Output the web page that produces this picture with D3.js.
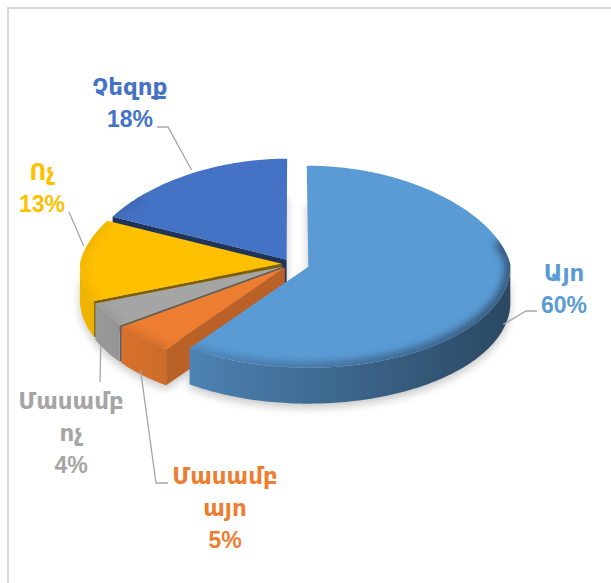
<!DOCTYPE html>
<html><head><meta charset="utf-8">
<script src="https://cdn.jsdelivr.net/npm/d3@7/dist/d3.min.js"></script>
<style>html,body{margin:0;padding:0;background:#fff;} svg{display:block}</style>
</head><body>
<svg id="chart" width="611" height="583"></svg>
<script>
// ---------------- data ----------------
const categories = ["Այո", "Մասամբ այո", "Մասամբ ոչ", "Ոչ", "Չեզոք"];
const values = [60, 5, 4, 13, 18];

// ---------------- style / layout ----------------
const colors = ["#5B9BD5", "#ED7D31", "#A5A5A5", "#FFC000", "#4472C4"];
const cutDark = [1.5, 0.7, 1.6, 2.0, 2.2];
const explode = [0.085, 0.05, 0.05, 0.05, 0.05];
const labelLayout = [
  {x: 564, y: 281, leader: [[537, 311], [526, 311]], anchor: {r: 1.015, h: -0.73, dphi: 0}},
  {x: 225, y: 484, leader: [[168, 483], [156, 483]], anchor: {r: 1.01, h: -0.86, dphi: 0}},
  {x: 71,  y: 409, leader: [[100, 382]], anchor: {r: 1.03, h: -0.8, dphi: 0}},
  {x: 42,  y: 180, leader: [[69, 212]], anchor: {r: 1.015, h: 0, dphi: 8.2}},
  {x: 130, y: 95,  leader: [[157, 127], [168, 127]], anchor: {r: 1.03, h: 0, dphi: 2}}
];
const lineGap = 32;

const rx = 202, ry = 101, T = 36, farSquash = 0.1;
const cx0 = 292, cy0 = 264;

// projection of pie space (X right, Zt toward viewer, H up in units of thickness)
function proj(X, Zt, H) {
  const s = Zt < 0 ? 1 + farSquash * Zt : 1;
  return [cx0 + rx * X * s, cy0 + ry * Zt - T * H];
}

const svg = d3.select("#chart");
const defs = svg.append("defs");

// frame
svg.append("path").attr("d", "M8,585V8H613").attr("fill", "none")
  .attr("stroke", "#d9d9d9").attr("stroke-width", 2);

const total = d3.sum(values);
const arcs = d3.pie().sort(null).value(d => d)(values).map((a, i) => {
  const mid = (a.startAngle + a.endAngle) / 2;
  return Object.assign(a, {
    i, mid,
    ox: explode[i] * Math.sin(mid),
    oz: -explode[i] * Math.cos(mid)
  });
});

function pt(a, phi, r, H) {
  return proj(a.ox + r * Math.sin(phi), a.oz - r * Math.cos(phi), H);
}
function arcPts(a, p0, p1, H) {
  const n = Math.max(2, Math.ceil(Math.abs(p1 - p0) / (Math.PI / 180)));
  const pts = [];
  for (let k = 0; k <= n; k++) pts.push(pt(a, p0 + (p1 - p0) * k / n, 1, H));
  return pts;
}
const line = d3.line();

function topPath(a, H) {
  return line([proj(a.ox, a.oz, H)].concat(arcPts(a, a.startAngle, a.endAngle, H))) + "Z";
}

// gradients per slice (light on the left, dark on the right)
arcs.forEach(a => {
  const c = d3.color(colors[a.i]);
  const g = defs.append("linearGradient").attr("id", "wg" + a.i).attr("gradientUnits", "userSpaceOnUse")
    .attr("x1", 75).attr("x2", 515).attr("y1", 0).attr("y2", 0);
  g.append("stop").attr("offset", 0).attr("stop-color", c.darker(0.15));
  g.append("stop").attr("offset", 0.3).attr("stop-color", c.darker(0.55));
  g.append("stop").attr("offset", 1).attr("stop-color", c.darker(2.2));
});

// faces
const faces = [];
arcs.forEach(a => {
  const H = -1;
  const w0 = Math.max(a.startAngle, Math.PI / 2), w1 = Math.min(a.endAngle, 3 * Math.PI / 2);
  if (w1 > w0) {
    const topA = arcPts(a, w0, w1, 0), botA = arcPts(a, w1, w0, H);
    let zs = 0, n = 0;
    for (let phi = w0; phi <= w1; phi += 0.02) { zs += -Math.cos(phi); n++; }
    faces.push({type: "wall", a, d: line(topA.concat(botA)) + "Z", key: a.oz + zs / n});
  }
  [[a.startAngle, Math.sin(a.startAngle) < -1e-6], [a.endAngle, Math.sin(a.endAngle) > 1e-6]].forEach(([phi, vis]) => {
    if (!vis) return;
    const c0 = proj(a.ox, a.oz, 0), r0 = pt(a, phi, 1, 0), r1 = pt(a, phi, 1, H), c1 = proj(a.ox, a.oz, H);
    faces.push({type: "cut", a, d: line([c0, r0, r1, c1]) + "Z", key: a.oz - 0.5 * Math.cos(phi)});
  });
});
faces.sort((p, q) => p.key - q.key);

// filters
const filt = defs.append("filter").attr("id", "shadow").attr("x", "-20%").attr("y", "-20%")
  .attr("width", "140%").attr("height", "140%");
filt.append("feGaussianBlur").attr("stdDeviation", 4);
const blur = defs.append("filter").attr("id", "bevel").attr("x", "-20%").attr("y", "-20%")
  .attr("width", "140%").attr("height", "140%");
blur.append("feGaussianBlur").attr("stdDeviation", 3.5);

const sh = svg.append("g").attr("filter", "url(#shadow)").attr("transform", "translate(0,4)")
  .attr("opacity", 0.35);
arcs.forEach(a => sh.append("path").attr("d", topPath(a, -1)).attr("fill", "#666"));
faces.forEach(f => sh.append("path").attr("d", f.d).attr("fill", "#666"));

const pieG = svg.append("g");
faces.forEach(f => {
  const c = d3.color(colors[f.a.i]);
  pieG.append("path").attr("d", f.d)
    .attr("fill", f.type === "wall" ? `url(#wg${f.a.i})` : c.darker(cutDark[f.a.i]));
});
arcs.forEach(a => {
  const tp = topPath(a, 0);
  pieG.append("path").attr("d", tp).attr("fill", colors[a.i]);
  const b0 = Math.max(a.startAngle, 1.31), b1 = Math.min(a.endAngle, 5.4);
  if (b1 > b0) {
    defs.append("clipPath").attr("id", "tc" + a.i).append("path").attr("d", tp);
    pieG.append("g").attr("clip-path", `url(#tc${a.i})`)
      .append("path").attr("d", line(arcPts(a, b0, b1, 0)))
      .attr("fill", "none").attr("stroke", `url(#wg${a.i})`).attr("stroke-width", 12)
      .attr("opacity", 0.75).attr("filter", "url(#bevel)");
  }
});

// labels
const fmt = d3.format(".0%");
const lab = svg.append("g")
  .attr("font-family", "'Liberation Sans', 'DejaVu Sans', 'Noto Sans Armenian', sans-serif")
  .attr("font-weight", "bold").attr("font-size", 23).attr("text-anchor", "middle");
arcs.forEach(a => {
  const L = labelLayout[a.i];
  const lines = categories[a.i].split(" ").concat([fmt(values[a.i] / total)]);
  const t = lab.append("text").attr("fill", colors[a.i]);
  lines.forEach((s, k) => t.append("tspan").attr("x", L.x).attr("y", L.y + k * lineGap).text(s));
  const end = pt(a, a.mid + L.anchor.dphi * Math.PI / 180, L.anchor.r, L.anchor.h);
  svg.append("path").attr("d", line(L.leader.concat([end])))
    .attr("fill", "none").attr("stroke", "#A6A6A6").attr("stroke-width", 1.3);
});
</script>
</body></html>
